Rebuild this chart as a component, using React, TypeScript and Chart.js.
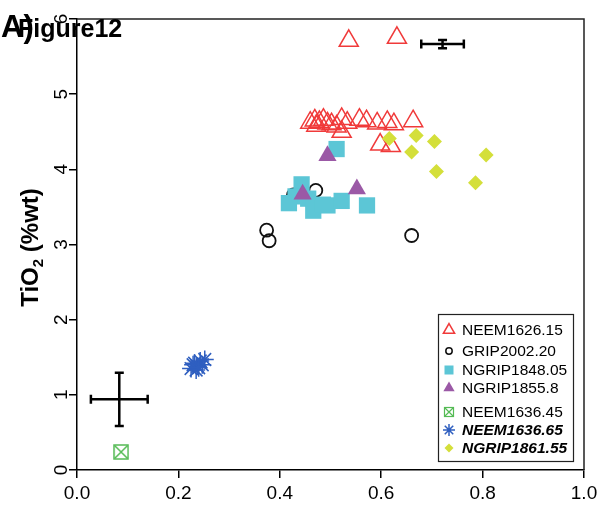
import React, { useEffect, useRef } from 'react';
import { Chart, registerables } from 'chart.js';

Chart.register(...registerables);

const FONT = '"Liberation Sans", Arial, sans-serif';

const seriesNames = ['NEEM1626.15', 'GRIP2002.20', 'NGRIP1848.05', 'NGRIP1855.8', 'NEEM1636.45', 'NEEM1636.65', 'NGRIP1861.55'];
const seriesColors = ['#f03a3a', '#111111', '#5cc6d6', '#9b59a6', '#55bb55', '#2f5fc0', '#d4df3a'];

const neem162615X = [0.536, 0.631, 0.460, 0.469, 0.478, 0.486, 0.494, 0.502, 0.522, 0.533, 0.557, 0.571, 0.592, 0.612, 0.625, 0.663, 0.472, 0.512, 0.522, 0.598, 0.619];
const neem162615Y = [5.71, 5.75, 4.62, 4.65, 4.63, 4.66, 4.61, 4.60, 4.67, 4.62, 4.66, 4.64, 4.61, 4.63, 4.60, 4.64, 4.58, 4.57, 4.50, 4.33, 4.31];

const grip200220X = [0.374, 0.379, 0.660, 0.471, 0.427];
const grip200220Y = [3.19, 3.05, 3.12, 3.72, 3.66];

const ngrip184805X = [0.512, 0.443, 0.431, 0.418, 0.456, 0.466, 0.494, 0.522, 0.572, 0.485];
const ngrip184805Y = [4.27, 3.80, 3.64, 3.55, 3.61, 3.45, 3.52, 3.58, 3.52, 3.53];

const ngrip18558X = [0.494, 0.445, 0.552];
const ngrip18558Y = [4.18, 3.67, 3.74];

const neem163645X = [0.087];
const neem163645Y = [0.24];

const neem163665X = [0.225, 0.232, 0.238, 0.243, 0.247, 0.235, 0.252, 0.229, 0.240];
const neem163665Y = [1.35, 1.42, 1.38, 1.45, 1.40, 1.33, 1.47, 1.40, 1.36];

const ngrip186155X = [0.616, 0.669, 0.705, 0.660, 0.807, 0.709, 0.786];
const ngrip186155Y = [4.41, 4.45, 4.37, 4.23, 4.19, 3.97, 3.82];

const xTicks = [0, 0.2, 0.4, 0.6, 0.8, 1.0];
const yTicks = [0, 1, 2, 3, 4, 5, 6];

const errCenterX = [0.721, 0.0834];
const errCenterY = [5.667, 0.941];
const errHalfX = [0.042, 0.056];
const errHalfY = [0.055, 0.354];

function pts(xs: number[], ys: number[]) {
  return xs.map((x, i) => ({ x, y: ys[i] }));
}

function makeBoxX(size: number, color: string) {
  const c = document.createElement('canvas');
  c.width = size;
  c.height = size;
  const g = c.getContext('2d')!;
  g.strokeStyle = color;
  g.lineWidth = 1.5;
  g.strokeRect(1, 1, size - 2, size - 2);
  g.beginPath();
  g.moveTo(1.5, 1.5);
  g.lineTo(size - 1.5, size - 1.5);
  g.moveTo(size - 1.5, 1.5);
  g.lineTo(1.5, size - 1.5);
  g.stroke();
  return c;
}

function drawMarker(ctx: CanvasRenderingContext2D, kind: number, x: number, y: number) {
  const col = seriesColors[kind];
  ctx.save();
  ctx.lineWidth = 1.5;
  ctx.strokeStyle = col;
  ctx.fillStyle = col;
  const tri = (r: number) => {
    ctx.beginPath();
    ctx.moveTo(x, y - r);
    ctx.lineTo(x + r * Math.sin((2 * Math.PI) / 3), y + r / 2);
    ctx.lineTo(x - r * Math.sin((2 * Math.PI) / 3), y + r / 2);
    ctx.closePath();
  };
  if (kind === 0) {
    tri(6.5);
    ctx.stroke();
  } else if (kind === 1) {
    ctx.beginPath();
    ctx.arc(x, y, 3.2, 0, Math.PI * 2);
    ctx.stroke();
  } else if (kind === 2) {
    ctx.fillRect(x - 4.5, y - 4.5, 9, 9);
  } else if (kind === 3) {
    tri(6.5);
    ctx.fill();
  } else if (kind === 4) {
    ctx.lineWidth = 1.2;
    ctx.strokeRect(x - 4.5, y - 4.5, 9, 9);
    ctx.beginPath();
    ctx.moveTo(x - 4.5, y - 4.5);
    ctx.lineTo(x + 4.5, y + 4.5);
    ctx.moveTo(x + 4.5, y - 4.5);
    ctx.lineTo(x - 4.5, y + 4.5);
    ctx.stroke();
  } else if (kind === 5) {
    const r = 6;
    ctx.beginPath();
    for (let k = 0; k < 4; k++) {
      const a = (k * Math.PI) / 4;
      ctx.moveTo(x - r * Math.cos(a), y - r * Math.sin(a));
      ctx.lineTo(x + r * Math.cos(a), y + r * Math.sin(a));
    }
    ctx.stroke();
  } else if (kind === 6) {
    const r = 4.5;
    ctx.beginPath();
    ctx.moveTo(x, y - r);
    ctx.lineTo(x + r, y);
    ctx.lineTo(x, y + r);
    ctx.lineTo(x - r, y);
    ctx.closePath();
    ctx.fill();
  }
  ctx.restore();
}

const decorPlugin = {
  id: 'decor',
  afterDatasetsDraw(chart: any) {
    const ctx: CanvasRenderingContext2D = chart.ctx;
    const xs = chart.scales.x;
    const ys = chart.scales.y;
    ctx.save();
    ctx.strokeStyle = '#000';
    ctx.lineWidth = 2.5;
    const cap = 4.5;
    for (let i = 0; i < errCenterX.length; i++) {
      const cx = xs.getPixelForValue(errCenterX[i]);
      const cy = ys.getPixelForValue(errCenterY[i]);
      const x0 = xs.getPixelForValue(errCenterX[i] - errHalfX[i]);
      const x1 = xs.getPixelForValue(errCenterX[i] + errHalfX[i]);
      const y0 = ys.getPixelForValue(errCenterY[i] - errHalfY[i]);
      const y1 = ys.getPixelForValue(errCenterY[i] + errHalfY[i]);
      ctx.beginPath();
      ctx.moveTo(x0, cy);
      ctx.lineTo(x1, cy);
      ctx.moveTo(x0, cy - cap);
      ctx.lineTo(x0, cy + cap);
      ctx.moveTo(x1, cy - cap);
      ctx.lineTo(x1, cy + cap);
      ctx.moveTo(cx, y0);
      ctx.lineTo(cx, y1);
      ctx.moveTo(cx - cap, y0);
      ctx.lineTo(cx + cap, y0);
      ctx.moveTo(cx - cap, y1);
      ctx.lineTo(cx + cap, y1);
      ctx.stroke();
    }
    ctx.restore();
  },
  afterDraw(chart: any) {
    const ctx: CanvasRenderingContext2D = chart.ctx;
    const ca = chart.chartArea;
    const ys = chart.scales.y;
    ctx.save();
    // frame (top and right)
    ctx.strokeStyle = '#222';
    ctx.lineWidth = 1.5;
    ctx.beginPath();
    ctx.moveTo(ca.left, ca.top);
    ctx.lineTo(ca.right, ca.top);
    ctx.lineTo(ca.right, ca.bottom);
    ctx.stroke();

    // rotated y tick labels
    ctx.fillStyle = '#000';
    ctx.font = `19px ${FONT}`;
    ctx.textAlign = 'center';
    ctx.textBaseline = 'alphabetic';
    for (const v of yTicks) {
      const py = ys.getPixelForValue(v);
      ctx.save();
      ctx.translate(ca.left - 10, py);
      ctx.rotate(-Math.PI / 2);
      ctx.fillText(String(v), 0, 0);
      ctx.restore();
    }

    // y axis title TiO2 (%wt)
    const big = `bold 24px ${FONT}`;
    const small = `bold 15px ${FONT}`;
    ctx.font = big;
    const w1 = ctx.measureText('TiO').width;
    const w3 = ctx.measureText(' (%wt)').width;
    ctx.font = small;
    const w2 = ctx.measureText('2').width;
    const total = w1 + w2 + w3;
    const cy = (ca.top + ca.bottom) / 2 + 3;
    ctx.save();
    ctx.translate(38, cy);
    ctx.rotate(-Math.PI / 2);
    ctx.textAlign = 'left';
    ctx.font = big;
    ctx.fillText('TiO', -total / 2, 0);
    ctx.font = small;
    ctx.fillText('2', -total / 2 + w1, 5);
    ctx.font = big;
    ctx.fillText(' (%wt)', -total / 2 + w1 + w2, 0);
    ctx.restore();

    // titles
    ctx.textAlign = 'left';
    ctx.font = `bold 25px ${FONT}`;
    ctx.fillText('Figure12', 18, 37);
    ctx.font = `bold 31px ${FONT}`;
    ctx.fillText('A)', 1, 37);

    // legend
    const lx = ca.right - 146;
    const ly = ca.bottom - 156;
    ctx.strokeStyle = '#222';
    ctx.lineWidth = 1.2;
    ctx.strokeRect(lx + 0.5, ly + 0.5, 135, 147);
    const rows = [16, 37, 56, 74, 98, 116, 134];
    ctx.textBaseline = 'middle';
    seriesNames.forEach((name, i) => {
      const ry = ly + rows[i];
      drawMarker(ctx, i, lx + 11, ry);
      ctx.fillStyle = '#000';
      ctx.font = i >= 5 ? `italic bold 15.5px ${FONT}` : `15.5px ${FONT}`;
      ctx.fillText(name, lx + 24, ry + 1);
    });
    ctx.restore();
  },
};

export default function App() {
  const ref = useRef<HTMLCanvasElement | null>(null);
  useEffect(() => {
    document.body.style.margin = '0';
    const canvas = ref.current!;
    const boxImg = makeBoxX(16, seriesColors[4]);
    const datasets: any[] = [
      { label: seriesNames[0], data: pts(neem162615X, neem162615Y), pointStyle: 'triangle', pointRadius: 11, borderColor: seriesColors[0], backgroundColor: 'rgba(255,255,255,0)', borderWidth: 1.5 },
      { label: seriesNames[1], data: pts(grip200220X, grip200220Y), pointStyle: 'circle', pointRadius: 6.5, borderColor: seriesColors[1], backgroundColor: 'rgba(255,255,255,0)', borderWidth: 1.8 },
      { label: seriesNames[2], data: pts(ngrip184805X, ngrip184805Y), pointStyle: 'rect', pointRadius: 11.5, borderColor: seriesColors[2], backgroundColor: seriesColors[2], borderWidth: 0 },
      { label: seriesNames[3], data: pts(ngrip18558X, ngrip18558Y), pointStyle: 'triangle', pointRadius: 10.5, borderColor: seriesColors[3], backgroundColor: seriesColors[3], borderWidth: 0 },
      { label: seriesNames[4], data: pts(neem163645X, neem163645Y), pointStyle: boxImg, pointRadius: 8, borderColor: seriesColors[4], backgroundColor: seriesColors[4] },
      { label: seriesNames[5], data: pts(neem163665X, neem163665Y), pointStyle: 'star', pointRadius: 9, borderColor: seriesColors[5], backgroundColor: seriesColors[5], borderWidth: 1.5 },
      { label: seriesNames[6], data: pts(ngrip186155X, ngrip186155Y), pointStyle: 'rectRot', pointRadius: 7.5, borderColor: seriesColors[6], backgroundColor: seriesColors[6], borderWidth: 0 },
    ];
    datasets.forEach((d, i) => {
      d.order = datasets.length - i;
      d.pointHoverRadius = d.pointRadius;
      d.showLine = false;
    });
    const chart = new Chart(canvas, {
      type: 'scatter',
      data: { datasets },
      plugins: [decorPlugin],
      options: {
        animation: false,
        responsive: false,
        maintainAspectRatio: false,
        events: [],
        layout: { padding: { left: 0, top: 19, right: 21, bottom: 0 } },
        plugins: { legend: { display: false }, tooltip: { enabled: false }, title: { display: false } },
        scales: {
          x: {
            type: 'linear',
            min: 0,
            max: 1,
            afterBuildTicks: (s: any) => {
              s.ticks = xTicks.map((v) => ({ value: v }));
            },
            afterFit: (s: any) => {
              s.height = 41;
            },
            grid: { display: true, drawOnChartArea: false, drawTicks: true, tickLength: 8, color: '#000', lineWidth: 1.5 },
            border: { display: true, color: '#000', width: 1.5 },
            ticks: {
              color: '#000',
              font: { size: 19, family: FONT },
              padding: 4,
              maxRotation: 0,
              autoSkip: false,
              callback: (v: any) => Number(v).toFixed(1),
            },
          },
          y: {
            type: 'linear',
            min: 0,
            max: 6,
            afterBuildTicks: (s: any) => {
              s.ticks = yTicks.map((v) => ({ value: v }));
            },
            afterFit: (s: any) => {
              s.width = 77;
            },
            grid: { display: true, drawOnChartArea: false, drawTicks: true, tickLength: 8, color: '#000', lineWidth: 1.5 },
            border: { display: true, color: '#000', width: 1.5 },
            ticks: { display: false },
          },
        },
      },
    });
    return () => chart.destroy();
  }, []);
  return <canvas ref={ref} width={605} height={511} style={{ display: 'block', width: 605, height: 511 }} />;
}
